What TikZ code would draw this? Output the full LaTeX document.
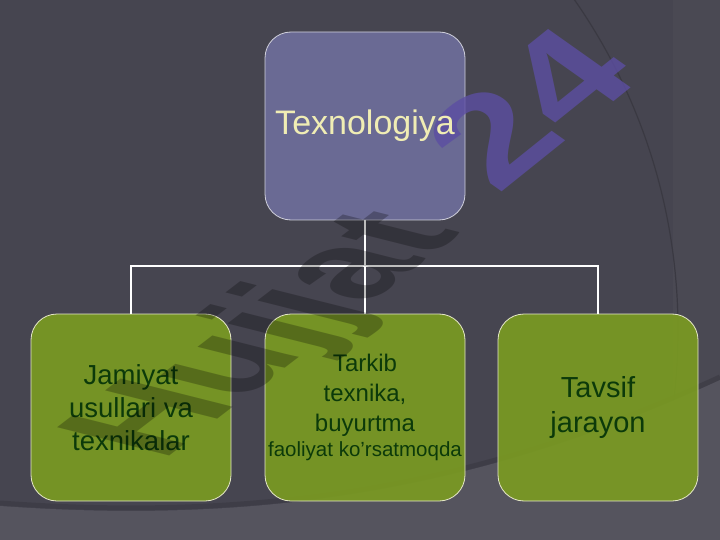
\documentclass[tikz,border=0pt]{standalone}
\usepackage{fontspec}
\setmainfont{Liberation Sans}
\definecolor{bgbase}{HTML}{464550}
\definecolor{bglow}{HTML}{55545E}
\definecolor{bgright}{HTML}{4A4953}
\definecolor{bgshadow}{HTML}{3A3942}
\definecolor{topfill}{HTML}{6C6C98}
\definecolor{toptext}{HTML}{F0EDB4}
\definecolor{greenfill}{HTML}{7A9A22}
\definecolor{greentext}{HTML}{0C3A0A}
\definecolor{boxline}{HTML}{D0D0DC}
\definecolor{greenline}{HTML}{E6E8C8}
\definecolor{wmpurple}{HTML}{5C4EA2}
\begin{document}
\begin{tikzpicture}[x=1pt,y=-1pt,
  topbox/.style={draw=boxline, line width=0.8pt, fill=topfill, fill opacity=0.95,
    rounded corners=26pt, minimum width=200pt, minimum height=188pt, inner sep=0pt},
  toplabel/.style={inner sep=0pt, text=toptext, font=\fontsize{34}{40}\selectfont},
  greenbox/.style={draw=greenline, line width=0.8pt, fill=greenfill, fill opacity=0.92, text opacity=1,
    rounded corners=26pt, minimum width=200pt, minimum height=187pt, inner sep=0pt,
    text=greentext, align=center},
  link/.style={draw=white, line width=1.8pt},
  wm/.style={inner sep=0pt, font=\fontsize{155}{160}\selectfont\bfseries}
]
\useasboundingbox (0,0) rectangle (720,540);
% background
\fill[bgbase] (0,0) rectangle (720,540);
\begin{scope}
\clip (0,0) rectangle (720,540);
\fill[bgright] (673,0) rectangle (720,540);
\draw[bgshadow, line width=1.2pt] (100,330) circle (578pt);
\fill[bglow] (0,506) .. controls (250,524) and (470,495) .. (720,380) -- (720,540) -- (0,540) -- cycle;
\draw[bgshadow, line width=5pt, opacity=0.6] (0,503) .. controls (250,521) and (470,492) .. (720,377);
\end{scope}
% nodes
\node[topbox] (top) at (365,126) {};
\node[greenbox, font=\fontsize{27.5}{33}\selectfont] (b1) at (131,407.5) {Jamiyat\\usullari va\\texnikalar};
\node[greenbox, font=\fontsize{24}{30}\selectfont] (b2) at (365,407.5) {Tarkib\\texnika,\\buyurtma\\[-5pt]{\fontsize{20.5}{25}\selectfont faoliyat ko'rsatmoqda}};
\node[greenbox, font=\fontsize{29}{35}\selectfont] (b3) at (598,407.5) {Tavsif\\jarayon};
% connectors
\coordinate (hub) at (365,266);
\draw[link] (top.south) -- (hub);
\draw[link] (hub) -| (b1.north);
\draw[link] (hub) -| (b3.north);
\draw[link] (hub) -- (b2.north);
% watermark
\node[wm, text=black, text opacity=0.26, anchor=base west,
  cm={0.697,0.535,-1.052,0.265,(0,0)}] (wmA) at (162,462) {Hujjat};
\node[wm, text=wmpurple, text opacity=0.8, anchor=base west,
  cm={0.852,0.684,-0.774,0.548,(0,0)}] (wmB) at (497,196) {24};
% title text above the watermark
\node[toplabel] (topTxt) at (top.center) {Texnologiya};
\end{tikzpicture}
\end{document}
